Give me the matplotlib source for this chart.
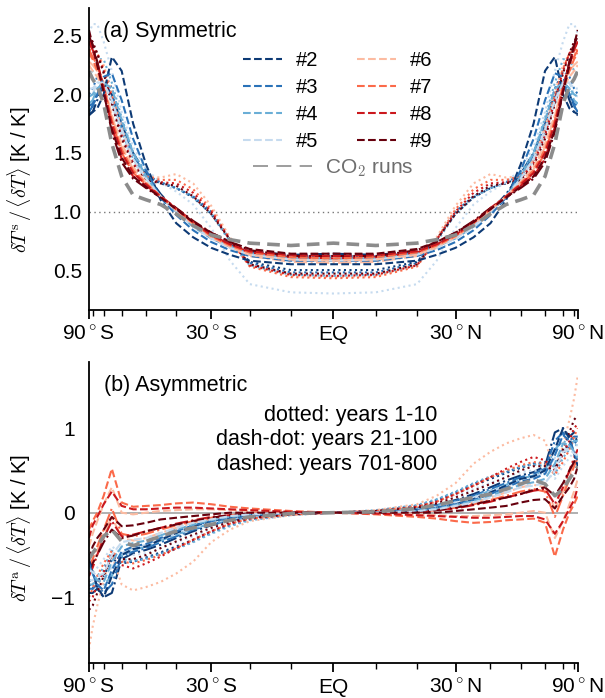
import numpy as np
import matplotlib
matplotlib.use("Agg")
import matplotlib.pyplot as plt
from matplotlib.lines import Line2D

plt.rcParams['font.family'] = ['Liberation Sans', 'DejaVu Sans']
plt.rcParams['mathtext.fontset'] = 'cm'
plt.rcParams['font.size'] = 15

# latitudes (deg N) of the half profiles; south = mirror
lat_half = [0, 10, 20, 25, 30, 35, 40, 45, 50, 55, 60, 65, 70, 75, 80, 90]

runs = ['#2', '#3', '#4', '#5', '#6', '#7', '#8', '#9']
colors = ['#0d3a75', '#2a72b8', '#6aaed6', '#c6dbef',
          '#fcbba1', '#fb6a4a', '#cb181d', '#67000d']

# (a) symmetric part, one row per run
sym_dotted = [
    [0.50, 0.50, 0.57, 0.76, 0.98, 1.12, 1.20, 1.24, 1.30, 1.44, 1.70, 2.00, 2.10, 2.00, 1.90, 1.85],
    [0.48, 0.48, 0.56, 0.76, 1.00, 1.13, 1.20, 1.25, 1.31, 1.47, 1.75, 2.05, 2.20, 2.15, 2.05, 2.00],
    [0.45, 0.46, 0.54, 0.74, 0.98, 1.12, 1.20, 1.25, 1.33, 1.50, 1.80, 2.10, 2.30, 2.30, 2.20, 2.15],
    [0.30, 0.31, 0.38, 0.58, 0.86, 1.06, 1.17, 1.25, 1.36, 1.55, 1.85, 2.20, 2.45, 2.60, 2.60, 2.52],
    [0.44, 0.45, 0.54, 0.78, 1.05, 1.24, 1.32, 1.29, 1.30, 1.44, 1.72, 2.02, 2.25, 2.35, 2.35, 2.32],
    [0.43, 0.44, 0.53, 0.76, 1.02, 1.19, 1.27, 1.27, 1.30, 1.44, 1.70, 2.00, 2.22, 2.35, 2.38, 2.38],
    [0.45, 0.46, 0.54, 0.76, 1.00, 1.16, 1.24, 1.25, 1.28, 1.41, 1.65, 1.95, 2.20, 2.35, 2.42, 2.45],
    [0.47, 0.47, 0.55, 0.76, 0.98, 1.13, 1.22, 1.24, 1.27, 1.39, 1.62, 1.92, 2.18, 2.35, 2.45, 2.50],
]
sym_dashdot = [
    [0.64, 0.63, 0.66, 0.72, 0.80, 0.89, 1.00, 1.15, 1.32, 1.50, 1.75, 2.00, 2.10, 1.95, 1.85, 1.82],
    [0.62, 0.62, 0.65, 0.71, 0.79, 0.88, 1.00, 1.13, 1.30, 1.48, 1.72, 1.98, 2.08, 2.00, 1.90, 1.85],
    [0.60, 0.60, 0.64, 0.70, 0.78, 0.88, 1.00, 1.12, 1.28, 1.45, 1.68, 1.95, 2.10, 2.05, 1.95, 1.92],
    [0.58, 0.58, 0.63, 0.69, 0.78, 0.88, 1.00, 1.12, 1.27, 1.43, 1.65, 1.92, 2.10, 2.10, 2.00, 1.98],
    [0.56, 0.57, 0.62, 0.69, 0.78, 0.89, 1.01, 1.12, 1.24, 1.36, 1.55, 1.82, 2.10, 2.20, 2.25, 2.28],
    [0.58, 0.59, 0.64, 0.70, 0.79, 0.90, 1.02, 1.13, 1.23, 1.33, 1.50, 1.78, 2.08, 2.25, 2.32, 2.38],
    [0.60, 0.61, 0.65, 0.72, 0.80, 0.91, 1.03, 1.13, 1.22, 1.30, 1.45, 1.72, 2.05, 2.28, 2.38, 2.45],
    [0.62, 0.62, 0.67, 0.74, 0.82, 0.92, 1.03, 1.12, 1.20, 1.28, 1.42, 1.68, 2.02, 2.28, 2.42, 2.50],
]
sym_dashed = [
    [0.55, 0.55, 0.58, 0.63, 0.69, 0.78, 0.90, 1.10, 1.40, 1.75, 2.20, 2.32, 2.00, 1.88, 1.85, 1.83],
    [0.58, 0.58, 0.62, 0.67, 0.74, 0.84, 0.97, 1.12, 1.35, 1.62, 1.95, 2.18, 2.15, 2.00, 1.92, 1.90],
    [0.60, 0.60, 0.64, 0.70, 0.77, 0.87, 1.00, 1.13, 1.30, 1.50, 1.78, 2.05, 2.10, 2.05, 2.00, 1.98],
    [0.58, 0.59, 0.63, 0.69, 0.77, 0.87, 1.00, 1.13, 1.28, 1.45, 1.70, 1.95, 2.10, 2.10, 2.05, 2.05],
    [0.58, 0.59, 0.63, 0.70, 0.78, 0.89, 1.01, 1.13, 1.25, 1.38, 1.58, 1.82, 2.05, 2.15, 2.20, 2.25],
    [0.60, 0.61, 0.65, 0.71, 0.79, 0.90, 1.02, 1.13, 1.24, 1.35, 1.53, 1.78, 2.05, 2.20, 2.30, 2.35],
    [0.62, 0.63, 0.66, 0.72, 0.80, 0.91, 1.02, 1.13, 1.23, 1.33, 1.50, 1.75, 2.05, 2.25, 2.38, 2.45],
    [0.64, 0.64, 0.68, 0.74, 0.82, 0.91, 1.02, 1.12, 1.21, 1.30, 1.46, 1.70, 2.02, 2.25, 2.42, 2.55],
]
sym_co2 = [0.73, 0.71, 0.73, 0.76, 0.80, 0.88, 0.98, 1.06, 1.10, 1.14, 1.30, 1.58, 1.92, 2.07, 2.13, 2.20]

# (b) asymmetric part, northern half (south is the negative mirror)
asym_dotted = [
    [0, 0.02, 0.08, 0.14, 0.22, 0.32, 0.40, 0.47, 0.53, 0.58, 0.60, 0.55, 0.75, 0.80, 0.90, 0.85],
    [0, 0.02, 0.08, 0.15, 0.24, 0.34, 0.42, 0.48, 0.54, 0.58, 0.58, 0.50, 0.70, 0.78, 0.85, 0.80],
    [0, 0.03, 0.09, 0.16, 0.25, 0.35, 0.43, 0.49, 0.55, 0.57, 0.55, 0.45, 0.65, 0.75, 0.80, 0.80],
    [0, 0.02, 0.07, 0.13, 0.20, 0.28, 0.35, 0.42, 0.48, 0.50, 0.48, 0.40, 0.55, 0.65, 0.72, 0.75],
    [0, 0.03, 0.10, 0.20, 0.35, 0.58, 0.72, 0.82, 0.88, 0.92, 0.85, 0.50, 0.80, 1.10, 1.35, 1.62],
    [0, 0.02, 0.07, 0.13, 0.22, 0.32, 0.42, 0.50, 0.56, 0.60, 0.58, 0.45, 0.60, 0.75, 0.90, 1.00],
    [0, 0.02, 0.07, 0.13, 0.22, 0.32, 0.42, 0.52, 0.60, 0.66, 0.62, 0.50, 0.70, 0.85, 1.00, 1.05],
    [0, 0.02, 0.06, 0.11, 0.18, 0.26, 0.34, 0.42, 0.50, 0.55, 0.55, 0.50, 0.75, 0.95, 1.10, 1.15],
]
asym_dashdot = [
    [0, 0.01, 0.05, 0.09, 0.15, 0.22, 0.30, 0.38, 0.44, 0.48, 0.55, 0.95, 1.00, 0.90, 0.95, 0.95],
    [0, 0.01, 0.05, 0.09, 0.14, 0.20, 0.28, 0.35, 0.42, 0.46, 0.52, 0.85, 0.95, 0.85, 0.90, 0.90],
    [0, 0.01, 0.04, 0.08, 0.13, 0.19, 0.26, 0.33, 0.40, 0.44, 0.50, 0.75, 0.85, 0.80, 0.85, 0.85],
    [0, 0.01, 0.04, 0.07, 0.12, 0.18, 0.25, 0.31, 0.38, 0.42, 0.48, 0.65, 0.75, 0.75, 0.80, 0.80],
    [0, 0.00, 0.02, 0.04, 0.08, 0.12, 0.18, 0.24, 0.30, 0.33, 0.30, 0.05, 0.25, 0.45, 0.60, 0.70],
    [0, 0.00, 0.01, 0.03, 0.06, 0.10, 0.15, 0.20, 0.25, 0.28, 0.25, -0.05, 0.20, 0.40, 0.55, 0.65],
    [0, 0.00, 0.01, 0.03, 0.05, 0.09, 0.13, 0.18, 0.22, 0.26, 0.28, 0.10, 0.30, 0.50, 0.65, 0.75],
    [0, 0.00, 0.01, 0.03, 0.06, 0.10, 0.14, 0.18, 0.22, 0.27, 0.30, 0.20, 0.35, 0.50, 0.60, 0.70],
]
asym_dashed = [
    [0, 0.00, 0.03, 0.06, 0.10, 0.16, 0.24, 0.32, 0.40, 0.43, 0.50, 0.75, 1.00, 0.88, 0.70, 0.55],
    [0, 0.00, 0.03, 0.06, 0.10, 0.15, 0.22, 0.30, 0.37, 0.40, 0.46, 0.68, 0.92, 0.85, 0.72, 0.60],
    [0, 0.00, 0.02, 0.05, 0.09, 0.14, 0.20, 0.27, 0.33, 0.36, 0.40, 0.58, 0.82, 0.80, 0.72, 0.65],
    [0, 0.00, 0.02, 0.04, 0.08, 0.12, 0.18, 0.24, 0.30, 0.32, 0.35, 0.50, 0.72, 0.75, 0.70, 0.68],
    [0, -0.01, -0.02, -0.03, -0.04, -0.04, -0.03, -0.02, 0.00, 0.02, 0.00, -0.30, -0.10, 0.10, 0.25, 0.40],
    [0, -0.02, -0.05, -0.07, -0.10, -0.12, -0.11, -0.09, -0.08, -0.07, -0.12, -0.52, -0.20, 0.00, 0.10, 0.20],
    [0, -0.01, -0.03, -0.04, -0.05, -0.06, -0.06, -0.05, -0.04, -0.04, -0.08, -0.25, -0.10, 0.05, 0.15, 0.30],
    [0, 0.00, 0.00, 0.00, 0.02, 0.04, 0.06, 0.08, 0.12, 0.15, 0.16, 0.05, 0.20, 0.30, 0.40, 0.55],
]
asym_co2 = [0, 0.01, 0.05, 0.09, 0.14, 0.18, 0.22, 0.28, 0.34, 0.39, 0.34, 0.20, 0.28, 0.40, 0.48, 0.55]

lat_half = np.array(lat_half, dtype=float)
lat_full = np.concatenate([-lat_half[::-1], lat_half[1:]])


def full_sym(v):
    v = np.asarray(v, dtype=float)
    return np.concatenate([v[::-1], v[1:]])


def full_asym(v):
    v = np.asarray(v, dtype=float)
    return np.concatenate([-v[::-1], v[1:]])


def fwd(x):
    return np.sin(np.deg2rad(x))


def inv(y):
    return np.rad2deg(np.arcsin(np.clip(y, -1, 1)))


fig = plt.figure(figsize=(6.05, 6.98), dpi=100)
ax1 = fig.add_axes([0.147, 0.556, 0.808, 0.433])
ax2 = fig.add_axes([0.147, 0.050, 0.808, 0.431])

co2_color = '#8c8c8c'
lw = 1.5

for ax, data, mirror, co2 in [
        (ax1, (sym_dotted, sym_dashdot, sym_dashed), full_sym, sym_co2),
        (ax2, (asym_dotted, asym_dashdot, asym_dashed), full_asym, asym_co2)]:
    ax.set_xscale('function', functions=(fwd, inv))
    dotted, dashdot, dashed = data
    for i in range(len(runs)):
        ax.plot(lat_full, mirror(dotted[i]), ':', color=colors[i], lw=lw)
        ax.plot(lat_full, mirror(dashdot[i]), '-.', color=colors[i], lw=lw)
    for i in range(len(runs)):
        ax.plot(lat_full, mirror(dashed[i]), '--', color=colors[i], lw=lw)
    ax.plot(lat_full, mirror(co2), color=co2_color, lw=2.6, dashes=(3.5, 2))

    ax.set_xlim(-90, 90)
    ax.set_xticks([-90, -30, 0, 30, 90])
    ax.set_xticklabels([r'90$^\circ$S', r'30$^\circ$S', 'EQ', r'30$^\circ$N', r'90$^\circ$N'])
    ax.set_xticks([-80, -70, -60, -50, -40, -20, -10, 10, 20, 40, 50, 60, 70, 80], minor=True)
    ax.tick_params(axis='x', which='major', length=6.5, width=1.3, pad=4.5, labelsize=15)
    ax.tick_params(axis='x', which='minor', length=4.3, width=1.0)
    ax.tick_params(axis='y', which='major', length=0, labelsize=15)
    for s in ['top', 'right']:
        ax.spines[s].set_visible(False)
    for s in ['left', 'bottom']:
        ax.spines[s].set_linewidth(1.3)

ax1.axhline(1.0, color='#777777', lw=1.0, ls=(0, (1, 2.5)), zorder=0)
ax1.set_ylim(0.16, 2.74)
ax1.set_yticks([0.5, 1.0, 1.5, 2.0, 2.5])
ax1.set_yticklabels(['0.5', '1.0', '1.5', '2.0', '2.5'])
ax1.tick_params(axis='y', pad=5)
ax1.set_ylabel(r'$\delta T^{\rm s}\,/\,\langle\delta T\rangle$ [K / K]', fontsize=14.5)
ax1.yaxis.set_label_coords(-0.112, 0.43)
ax1.text(0.029, 0.92, '(a) Symmetric', transform=ax1.transAxes, va='center', fontsize=15.5)

ax2.axhline(0.0, color='#b0b0b0', lw=1.4, zorder=0)
ax2.set_ylim(-1.78, 1.78)
ax2.set_yticks([-1, 0, 1])
ax2.set_yticklabels(['\u22121', '0', '1'])
ax2.tick_params(axis='y', pad=10)
ax2.set_ylabel(r'$\delta T^{\rm a}\,/\,\langle\delta T\rangle$ [K / K]', fontsize=14.5)
ax2.yaxis.set_label_coords(-0.112, 0.45)
ax2.text(0.03, 0.924, '(b) Asymmetric', transform=ax2.transAxes, va='center', fontsize=15.5)
ax2.text(0.712, 0.742, 'dotted: years 1-10\ndash-dot: years 21-100\ndashed: years 701-800',
         transform=ax2.transAxes, ha='right', va='center', multialignment='right',
         linespacing=1.2, fontsize=15.5)

# legends
handles = [Line2D([], [], color=c, lw=lw, ls='--') for c in colors]
leg1 = ax1.legend(handles, runs, ncol=2, loc='upper left', bbox_to_anchor=(0.316, 0.857),
                  frameon=False, borderpad=0, borderaxespad=0, handlelength=1.94,
                  handletextpad=0.65, columnspacing=1.95, labelspacing=0.4, fontsize=14.5)
ax1.add_artist(leg1)
co2_handle = Line2D([], [], color=co2_color, lw=1.2, dashes=(9, 5))
ax1.legend([co2_handle], [r'CO$_2$ runs'], loc='upper left', bbox_to_anchor=(0.335, 0.505),
           frameon=False, borderpad=0, borderaxespad=0, handlelength=2.83,
           handletextpad=0.65, fontsize=15, labelcolor='#6e6e6e')

fig.savefig('out.png', dpi=100)
